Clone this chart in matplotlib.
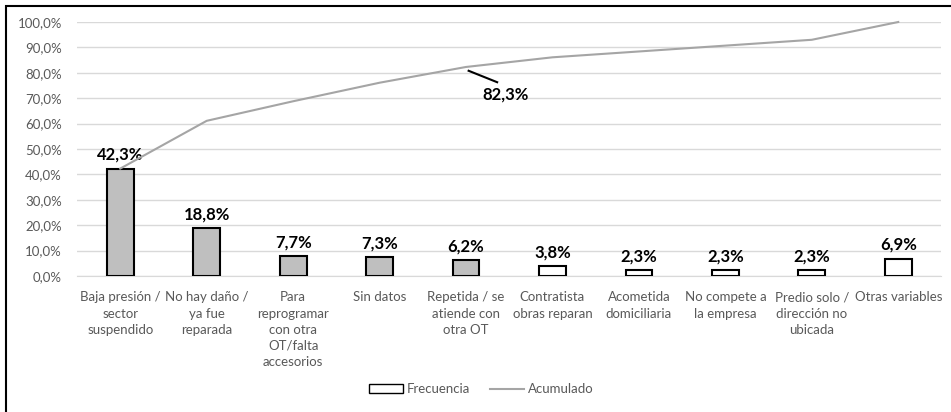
import numpy as np
import matplotlib.pyplot as plt
from matplotlib.patches import Rectangle
from matplotlib.lines import Line2D
from matplotlib.ticker import FuncFormatter

categorias = ["Baja presión /\nsector\nsuspendido", "No hay daño /\nya fue\nreparada",
              "Para\nreprogramar\ncon otra\nOT/falta\naccesorios", "Sin datos",
              "Repetida / se\natiende con\notra OT", "Contratista\nobras reparan",
              "Acometida\ndomiciliaria", "No compete a\nla empresa",
              "Predio solo /\ndirección no\nubicada", "Otras variables"]
frecuencia = [42.3, 18.8, 7.7, 7.3, 6.2, 3.8, 2.3, 2.3, 2.3, 6.9]
acumulado = [42.3, 61.1, 68.8, 76.1, 82.3, 86.1, 88.4, 90.7, 93.0, 100.0]
n_grises = 5  # causas que suman el 80%

plt.rcParams['font.family'] = ['Lato', 'DejaVu Sans']
gris_txt = "#595959"

fig = plt.figure(figsize=(9.51, 4.12), dpi=100)
ax = fig.add_axes([0.081, 0.33, 0.909, 0.6166])

x = np.arange(len(categorias))
colores = ["#bfbfbf" if i < n_grises else "white" for i in x]
ax.bar(x, frecuencia, width=0.31, color=colores, edgecolor="black", linewidth=1.5, zorder=3)
for xi, v in zip(x, frecuencia):
    ax.text(xi, v + 2.4, f"{v:.1f}%".replace(".", ","), ha="center", va="bottom",
            fontsize=12, fontweight="bold", color="black", zorder=4)

ax.plot(x, acumulado, color="#a5a5a5", linewidth=1.5, zorder=4, clip_on=False)

# etiqueta del punto 80/20
i80 = 4
ax.plot([i80 + 0.03, i80 + 0.36], [acumulado[i80] - 1.5, acumulado[i80] - 6],
        color="black", linewidth=1.5, zorder=5)
ax.text(i80 + 0.46, acumulado[i80] - 7.5, f"{acumulado[i80]:.1f}%".replace(".", ","),
        ha="center", va="top", fontsize=12, fontweight="bold", color="black")

ax.set_xlim(-0.5, len(categorias) - 0.5)
ax.set_ylim(0, 100)
ax.set_yticks(np.arange(0, 101, 10))
ax.yaxis.set_major_formatter(FuncFormatter(lambda v, p: f"{v:.1f}%".replace(".", ",")))
ax.set_xticks(x)
ax.set_xticklabels(categorias, linespacing=1.42)
ax.tick_params(axis="both", length=0, labelsize=9.5, colors=gris_txt)
ax.tick_params(axis="x", pad=11)
ax.tick_params(axis="y", pad=11)
ax.grid(axis="y", color="#d9d9d9", linewidth=1, zorder=0)
for s in ["top", "right", "left"]:
    ax.spines[s].set_visible(False)
ax.spines["bottom"].set_color("#d9d9d9")

handles = [Rectangle((0, 0), 1, 1, facecolor="white", edgecolor="black", linewidth=1),
           Line2D([0], [0], color="#a5a5a5", linewidth=1.5)]
fig.legend(handles, ["Frecuencia", "Acumulado"], loc="center", bbox_to_anchor=(0.506, 0.055),
           ncol=2, frameon=False, fontsize=9.5, labelcolor=gris_txt, handlelength=2.6,
           handletextpad=0.3, columnspacing=1.5)

# marco del gráfico
fig.add_artist(Rectangle((6 / 951, -0.1), 1.1, 1 - 6 / 412 + 0.1, transform=fig.transFigure,
                         fill=False, edgecolor="black", linewidth=1.5))

fig.savefig("out.png", dpi=100)
